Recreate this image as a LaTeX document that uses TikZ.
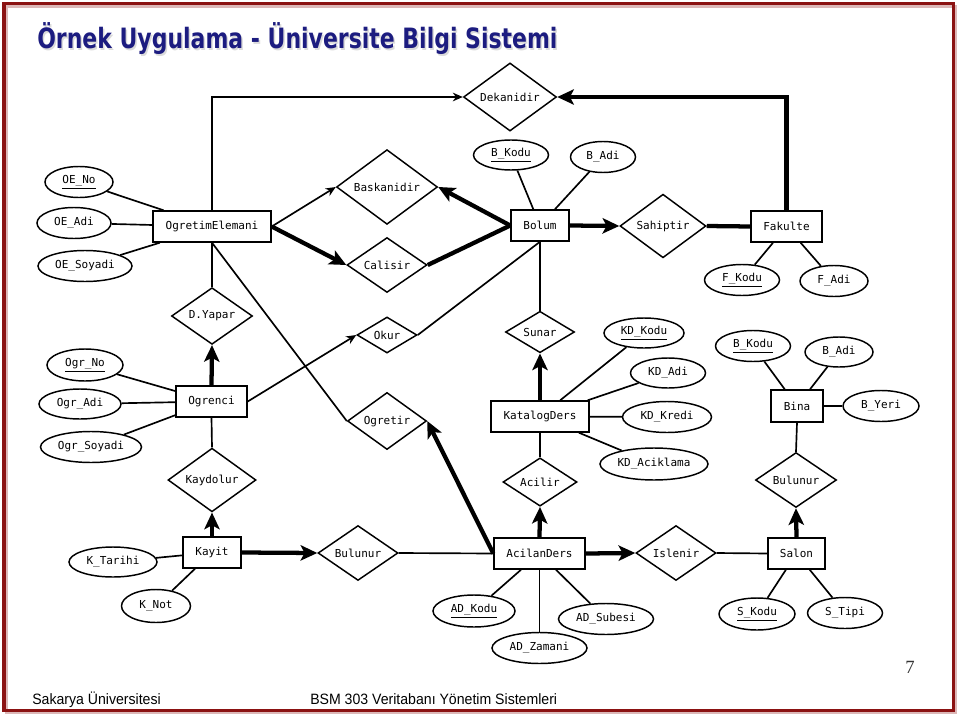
\documentclass[tikz,border=0pt]{standalone}
\usepackage{fontspec}
\setmainfont{DejaVu Sans}
\newfontfamily\monof{DejaVu Sans Mono}
\newfontfamily\titlef{DejaVu Sans}
\newfontfamily\footf{Liberation Sans}
\newfontfamily\numf{Liberation Serif}
\usetikzlibrary{shapes.geometric,arrows.meta}
\newdimen\pxu \pxu=0.75pt
\definecolor{framered}{HTML}{8B1212}
\definecolor{titleblue}{HTML}{1C1C80}
\tikzset{
  base/.style={draw, line width=1.1pt, inner sep=0pt, font=\monof\fontsize{8.25}{9}\selectfont},
  ent/.style={base, rectangle},
  att/.style={base, ellipse},
  rel/.style={base, diamond},
  conn/.style={line width=1.25pt},
  bold/.style={line width=3.2pt},
  tarrow/.style={conn, -{Stealth[length=7.5pt,width=6.5pt]}},
  Tarrow/.style={bold, -{Stealth[length=12.5pt,width=11.5pt,inset=3pt]}},
}
\begin{document}
\begin{tikzpicture}[x=0.75pt,y=-0.75pt]
\useasboundingbox (0,0) rectangle (960,717);
\fill[white] (0,0) rectangle (960,717);
% frame
\draw[framered!30, line width=2.2pt] (6.5,6.5) rectangle (956,713);
\draw[framered, line width=2.6pt] (4,3.5) rectangle (953.5,710.5);
% title
\node[anchor=base west, inner sep=0pt, text=gray!28] (titlesh) at (38.5,50.5) {\titlef\bfseries\fontsize{21}{24}\selectfont\scalebox{0.785}[1]{Örnek Uygulama - Üniversite Bilgi Sistemi}};
\node[anchor=base west, inner sep=0pt, text=titleblue] (title) at (37,49) {\titlef\bfseries\fontsize{21}{24}\selectfont\scalebox{0.785}[1]{Örnek Uygulama - Üniversite Bilgi Sistemi}};
% footer
\node[anchor=base west, inner sep=0pt] (foot1) at (32,704) {\footf\fontsize{11.25}{13}\selectfont\scalebox{0.94}[1]{Sakarya Üniversitesi}};
\node[anchor=base west, inner sep=0pt] (foot2) at (310,704) {\footf\fontsize{11.25}{13}\selectfont\scalebox{0.94}[1]{BSM 303 Veritabanı Yönetim Sistemleri}};
\node[anchor=base west, inner sep=0pt, text=black!80] (pg) at (905,673) {\numf\fontsize{14}{16}\selectfont 7};

% ---- entities
\node[ent, minimum width=118*\pxu, minimum height=31*\pxu] (oe) at (212,226.5) {OgretimElemani};
\node[ent, minimum width=58*\pxu, minimum height=31*\pxu] (bol) at (540,225.5) {Bolum};
\node[ent, minimum width=71*\pxu, minimum height=31*\pxu] (fak) at (786.5,226.5) {Fakulte};
\node[ent, minimum width=71*\pxu, minimum height=31*\pxu] (ogr) at (211.5,401.5) {Ogrenci};
\node[ent, minimum width=98*\pxu, minimum height=31*\pxu] (kat) at (540,416.5) {KatalogDers};
\node[ent, minimum width=52*\pxu, minimum height=32*\pxu] (bina) at (797,406) {Bina};
\node[ent, minimum width=58*\pxu, minimum height=31*\pxu] (kayit) at (212,552.5) {Kayit};
\node[ent, minimum width=91*\pxu, minimum height=31*\pxu] (acd) at (539.5,553.5) {AcilanDers};
\node[ent, minimum width=57*\pxu, minimum height=31*\pxu] (salon) at (796.5,553.5) {Salon};

% ---- relationships
\node[rel, minimum width=93*\pxu, minimum height=57*\pxu] (dek) at (510,97) {Dekanidir};
\node[rel, minimum width=101*\pxu, minimum height=61*\pxu] (bask) at (387,187) {Baskanidir};
\node[rel, minimum width=80*\pxu, minimum height=48*\pxu] (cal) at (387,265) {Calisir};
\node[rel, minimum width=86*\pxu, minimum height=52*\pxu] (sah) at (663,226) {Sahiptir};
\node[rel, minimum width=81*\pxu, minimum height=49*\pxu] (dy) at (212,316) {D.Yapar};
\node[rel, minimum width=60*\pxu, minimum height=36*\pxu] (okur) at (387,335) {Okur};
\node[rel, minimum width=69*\pxu, minimum height=39*\pxu] (sunar) at (540,332) {Sunar};
\node[rel, minimum width=79*\pxu, minimum height=49*\pxu] (ogt) at (387,421) {Ogretir};
\node[rel, minimum width=88*\pxu, minimum height=52*\pxu] (kay) at (212,480) {Kaydolur};
\node[rel, minimum width=74*\pxu, minimum height=44*\pxu] (acil) at (540,482) {Acilir};
\node[rel, minimum width=81*\pxu, minimum height=48*\pxu] (bul2) at (796,480) {Bulunur};
\node[rel, minimum width=80*\pxu, minimum height=48*\pxu] (bul1) at (358,553) {Bulunur};
\node[rel, minimum width=80*\pxu, minimum height=48*\pxu] (isl) at (676,553) {Islenir};

% ---- attributes
\node[att, minimum width=68*\pxu, minimum height=31*\pxu] (oeno) at (79,182) {\underline{OE\_No}};
\node[att, minimum width=74*\pxu, minimum height=31*\pxu] (oeadi) at (74,223) {OE\_Adi};
\node[att, minimum width=94*\pxu, minimum height=31*\pxu] (oesoy) at (85,266) {OE\_Soyadi};
\node[att, minimum width=75*\pxu, minimum height=30*\pxu] (bkodu) at (511,155) {\underline{B\_Kodu}};
\node[att, minimum width=65*\pxu, minimum height=31*\pxu] (badi) at (603,157) {B\_Adi};
\node[att, minimum width=75*\pxu, minimum height=31*\pxu] (fkodu) at (742,280) {\underline{F\_Kodu}};
\node[att, minimum width=68*\pxu, minimum height=31*\pxu] (fadi) at (834,281) {F\_Adi};
\node[att, minimum width=76*\pxu, minimum height=32*\pxu] (ogrno) at (85,365) {\underline{Ogr\_No}};
\node[att, minimum width=82*\pxu, minimum height=30*\pxu] (ograd) at (80,404) {Ogr\_Adi};
\node[att, minimum width=101*\pxu, minimum height=31*\pxu] (ogrsoy) at (91,447) {Ogr\_Soyadi};
\node[att, minimum width=80*\pxu, minimum height=30*\pxu] (kdkod) at (644,333) {\underline{KD\_Kodu}};
\node[att, minimum width=75*\pxu, minimum height=30*\pxu] (kdadi) at (668,373) {KD\_Adi};
\node[att, minimum width=89*\pxu, minimum height=31*\pxu] (kdkre) at (667,417) {KD\_Kredi};
\node[att, minimum width=108*\pxu, minimum height=32*\pxu] (kdack) at (654,464) {KD\_Aciklama};
\node[att, minimum width=75*\pxu, minimum height=31*\pxu] (bikod) at (753,346) {\underline{B\_Kodu}};
\node[att, minimum width=68*\pxu, minimum height=30*\pxu] (biadi) at (839,352) {B\_Adi};
\node[att, minimum width=76*\pxu, minimum height=31*\pxu] (byeri) at (881,406) {B\_Yeri};
\node[att, minimum width=88*\pxu, minimum height=30*\pxu] (ktar) at (113,562) {K\_Tarihi};
\node[att, minimum width=69*\pxu, minimum height=33*\pxu] (knot) at (156,606) {K\_Not};
\node[att, minimum width=82*\pxu, minimum height=32*\pxu] (adkod) at (474,611) {\underline{AD\_Kodu}};
\node[att, minimum width=95*\pxu, minimum height=31*\pxu] (adsub) at (606,619) {AD\_Subesi};
\node[att, minimum width=95*\pxu, minimum height=31*\pxu] (adzam) at (539.5,648) {AD\_Zamani};
\node[att, minimum width=76*\pxu, minimum height=32*\pxu] (skod) at (757,614) {\underline{S\_Kodu}};
\node[att, minimum width=75*\pxu, minimum height=31*\pxu] (stip) at (845,613) {S\_Tipi};

% ---- connectors
\draw[tarrow] (oe.north) |- (dek.west);
\draw[Tarrow] (fak.north) |- (dek.east);
\draw[tarrow] (oe.east) -- (bask.west);
\draw[Tarrow] (oe.east) -- (cal.west);
\draw[Tarrow] (bol.west) -- (bask.east);
\draw[bold] (bol.west) -- (cal.east);
\draw[Tarrow] (bol.east) -- (sah.west);
\draw[bold] (sah.east) -- (fak.west);
\draw[conn] (bol.south) -- (okur.east);
\draw[conn] (bol.south) -- (sunar.north);
\draw[Tarrow] (kat.north) -- (sunar.south);
\draw[conn] (kat.south) -- (acil.north);
\draw[Tarrow] (acd.north) -- (acil.south);
\draw[Tarrow] (acd.east) -- (isl.west);
\draw[conn] (isl.east) -- (salon.west);
\draw[Tarrow] (salon.north) -- (bul2.south);
\draw[conn] (bina.south) -- (bul2.north);
\draw[conn] (bul1.east) -- (acd.west);
\draw[Tarrow] (acd.west) -- (ogt.east);
\draw[conn] (oe.south) -- (ogt.west);
\draw[conn] (oe.south) -- (dy.north);
\draw[Tarrow] (ogr.north) -- (dy.south);
\draw[tarrow] (ogr.east) -- (okur.west);
\draw[conn] (ogr.south) -- (kay.north);
\draw[Tarrow] (kayit.north) -- (kay.south);
\draw[Tarrow] (kayit.east) -- (bul1.west);
% attribute links
\draw[conn] (oeno) -- (oe);
\draw[conn] (oeadi) -- (oe);
\draw[conn] (oesoy) -- (oe);
\draw[conn] (bkodu) -- (bol);
\draw[conn] (badi) -- (bol);
\draw[conn] (fkodu) -- (fak);
\draw[conn] (fadi) -- (fak);
\draw[conn] (ogrno) -- (ogr);
\draw[conn] (ograd) -- (ogr);
\draw[conn] (ogrsoy) -- (ogr);
\draw[conn] (kdkod) -- (kat);
\draw[conn] (kdadi) -- (kat);
\draw[conn] (kdkre) -- (kat);
\draw[conn] (kdack) -- (kat);
\draw[conn] (bikod) -- (bina);
\draw[conn] (biadi) -- (bina);
\draw[conn] (byeri) -- (bina);
\draw[conn] (ktar) -- (kayit);
\draw[conn] (knot) -- (kayit);
\draw[conn] (adkod) -- (acd);
\draw[conn] (adsub) -- (acd);
\draw[conn] (adzam) -- (acd);
\draw[conn] (skod) -- (salon);
\draw[conn] (stip) -- (salon);
\end{tikzpicture}
\end{document}
